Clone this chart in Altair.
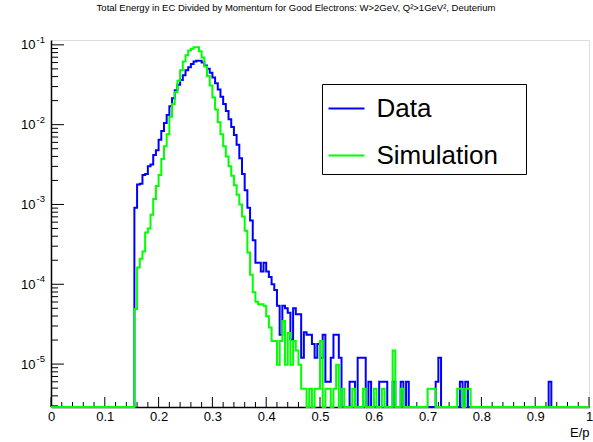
import altair as alt
import pandas as pd

# ---- histogram layout: E/p from 0 to 1 in 200 bins ----
BIN_WIDTH = 0.005
N_BINS = 200
FIRST_BIN = 31          # first filled bin starts at E/p = 0.155
Y_MIN = 2.9e-6
Y_MAX = 0.115

# Data (blue): bin contents from bin 31 (E/p=0.155) to bin 107
data_main = [
    9.12e-4, 1.78e-3, 1.82e-3, 2.34e-3, 2.40e-3, 3.02e-3, 3.16e-3, 4.17e-3, 4.79e-3,
    6.46e-3, 8.32e-3, 1.05e-2, 1.32e-2, 1.70e-2, 2.14e-2, 2.69e-2, 3.16e-2, 3.63e-2,
    4.17e-2, 4.79e-2, 5.25e-2, 5.75e-2, 6.17e-2, 6.31e-2, 6.31e-2, 6.03e-2, 5.50e-2,
    5.01e-2, 4.47e-2, 3.89e-2, 3.31e-2, 2.75e-2, 2.24e-2, 1.82e-2, 1.48e-2, 1.17e-2,
    9.33e-3, 7.41e-3, 5.62e-3, 3.80e-3, 2.40e-3, 1.51e-3, 9.12e-4, 6.31e-4, 3.55e-4,
    1.86e-4, 1.86e-4, 1.45e-4, 1.86e-4, 1.45e-4, 1.23e-4, 1.00e-4, 8.5e-5, 5.37e-5,
    2.34e-5, 5.37e-5, 5.01e-5, 4.4e-5, 2.04e-5, 5.0e-5, 4.2e-5, 4.2e-5, 1.2e-5,
    2.5e-5, 2.34e-5, 2.34e-5, 1.78e-5, 1.2e-5, 1.78e-5, 1.2e-5, 2.34e-5, 6e-6,
    6e-6, 1.2e-5, 2.34e-5, 2.34e-5, 1.2e-5,
]
data_tail_bins = [111, 112, 114, 115, 116, 118, 122, 123, 124, 127, 130, 132, 143, 144, 152, 154, 185]
data_tail_vals = [6e-6, 6e-6, 1.2e-5, 1.2e-5, 1.2e-5, 6e-6, 6e-6, 6e-6, 6e-6, 6e-6,
                  6e-6, 6e-6, 6e-6, 1.2e-5, 6e-6, 6e-6, 6e-6]

# Simulation (green): bin contents from bin 31 to bin 108
sim_main = [
    4.9e-5, 1.62e-4, 2.09e-4, 2.57e-4, 4.47e-4, 5.01e-4, 7.41e-4, 1.17e-3, 1.70e-3,
    2.34e-3, 3.72e-3, 5.37e-3, 7.59e-3, 1.26e-2, 1.82e-2, 2.57e-2, 3.55e-2, 4.79e-2,
    6.17e-2, 7.41e-2, 8.51e-2, 8.91e-2, 9.33e-2, 9.33e-2, 8.32e-2, 6.92e-2, 5.37e-2,
    4.07e-2, 3.09e-2, 2.19e-2, 1.55e-2, 1.07e-2, 7.59e-3, 5.37e-3, 3.98e-3, 3.02e-3,
    2.29e-3, 1.74e-3, 1.32e-3, 1.00e-3, 7.08e-4, 4.68e-4, 2.51e-4, 1.32e-4, 7.94e-5,
    6.03e-5, 5.62e-5, 5.62e-5, 5.37e-5, 3.98e-5, 2.88e-5, 1.95e-5, 1.95e-5, 9.8e-6,
    1.95e-5, 3.47e-5, 9.8e-6, 2.45e-5, 9.8e-6, 1.95e-5, 1.48e-5, 9.8e-6, 4.9e-6,
    4.9e-6, 0, 4.9e-6, 0, 4.9e-6, 4.9e-6, 1.95e-5, 0, 4.9e-6, 4.9e-6, 0,
    4.9e-6, 9.8e-6, 0, 4.9e-6,
]
sim_tail_bins = [112, 116, 120, 123, 127, 130, 140, 141, 142, 151, 152, 154, 155]
sim_tail_vals = [4.9e-6, 4.9e-6, 4.9e-6, 4.9e-6, 1.48e-5, 4.9e-6, 4.9e-6, 4.9e-6,
                 4.9e-6, 4.9e-6, 4.9e-6, 4.9e-6, 4.9e-6]

SERIES = ["Data", "Simulation"]
COLORS = ["#0000ff", "#00ff00"]

TITLE = "Total Energy in EC Divided by Momentum for Good Electrons: W>2GeV, Q\u00b2>1GeV\u00b2, Deuterium"

x_major = [0, 0.1, 0.2, 0.3, 0.4, 0.5, 0.6, 0.7, 0.8, 0.9, 1.0]
x_minor = [round(i * 0.02, 2) for i in range(1, 50) if i % 5 != 0]
y_major = [1e-5, 1e-4, 1e-3, 1e-2, 1e-1]
y_exponents = ["-5", "-4", "-3", "-2", "-1"]
y_minor = [m * 10.0 ** e for e in range(-6, -1) for m in range(2, 10)
           if Y_MIN <= m * 10.0 ** e <= Y_MAX]

W, H = 538, 367
FONT = "Liberation Sans"


def build(series, main, tb, tv):
    vals = [0.0] * N_BINS
    for i, v in enumerate(main):
        vals[FIRST_BIN + i] = v
    for b, v in zip(tb, tv):
        vals[b] = v
    rows = []
    for k in range(N_BINS):
        rows.append({"x": round(k * BIN_WIDTH, 4), "y": vals[k] if vals[k] > 0 else Y_MIN, "series": series})
    rows.append({"x": 1.0, "y": vals[-1] if vals[-1] > 0 else Y_MIN, "series": series})
    return rows


df = pd.DataFrame(build("Data", data_main, data_tail_bins, data_tail_vals)
                  + build("Simulation", sim_main, sim_tail_bins, sim_tail_vals))

x_scale = alt.Scale(domain=[0, 1], nice=False, zero=False)
y_scale = alt.Scale(type="log", domain=[Y_MIN, Y_MAX], nice=False)
color_scale = alt.Scale(domain=SERIES, range=COLORS)

x_axis = alt.Axis(values=x_major, labelExpr="format(datum.value, '.1~f')", ticks=False,
                  domain=True, domainColor="black", domainWidth=1.5, grid=False,
                  labelFont=FONT, labelFontSize=13, labelColor="black", labelPadding=3,
                  labelFlush=False, labelOverlap=False,
                  title="E/p", titleFont=FONT, titleFontSize=13, titleFontWeight="normal",
                  titleColor="black", titleAnchor="end", titlePadding=3)
y_axis = alt.Axis(values=y_major, labelExpr="'10'",
                  ticks=False, domain=True, domainColor="black", domainWidth=1.5, grid=False,
                  labelFont=FONT, labelFontSize=13, labelColor="black", labelPadding=16,
                  labelFlush=False, labelOverlap=False, title=None)

legend = alt.Legend(orient="none", legendX=271, legendY=44, title=None, direction="vertical",
                    symbolType="stroke", symbolSize=1296, symbolStrokeWidth=2,
                    labelFont=FONT, labelFontSize=26, labelColor="black", labelOffset=11,
                    labelLimit=400, labelExpr="datum.label + '\u2002\u2004\u200b'",
                    strokeColor="black", fillColor="white", padding=5.5, rowPadding=15)

ytick_major = alt.Chart(pd.DataFrame({"v": y_major})).mark_rule(color="black", strokeWidth=1).encode(
    y=alt.Y("v:Q", scale=y_scale, axis=y_axis), x=alt.value(0), x2=alt.value(13))
ytick_minor = alt.Chart(pd.DataFrame({"v": y_minor})).mark_rule(color="black", strokeWidth=1).encode(
    y=alt.Y("v:Q", scale=y_scale, axis=y_axis), x=alt.value(0), x2=alt.value(7))
xtick_major = alt.Chart(pd.DataFrame({"v": x_major})).mark_rule(color="black", strokeWidth=1).encode(
    x=alt.X("v:Q", scale=x_scale, axis=x_axis), y=alt.value(H), y2=alt.value(H - 10))
xtick_minor = alt.Chart(pd.DataFrame({"v": x_minor})).mark_rule(color="black", strokeWidth=1).encode(
    x=alt.X("v:Q", scale=x_scale, axis=x_axis), y=alt.value(H), y2=alt.value(H - 5))
# exponents of the "10^n" labels, drawn as superscripts next to the axis labels
y_exp = alt.Chart(pd.DataFrame({"v": y_major, "e": y_exponents})).mark_text(
    align="right", baseline="middle", font=FONT, fontSize=9.5, color="black", dy=-5).encode(
    y=alt.Y("v:Q", scale=y_scale, axis=y_axis), x=alt.value(-6), text="e:N")

base = alt.Chart(df).mark_line(interpolate="step-after", strokeWidth=2, clip=False)
enc = dict(
    x=alt.X("x:Q", scale=x_scale, axis=x_axis),
    y=alt.Y("y:Q", scale=y_scale, axis=y_axis),
    color=alt.Color("series:N", scale=color_scale, legend=legend),
)
data_layer = base.transform_filter(alt.datum.series == "Data").encode(**enc)
sim_layer = base.transform_filter(alt.datum.series == "Simulation").encode(**enc)

chart = alt.layer(ytick_major, ytick_minor, xtick_major, xtick_minor, y_exp, data_layer, sim_layer).properties(
    width=W, height=H,
    padding={"left": 51, "top": 40, "right": 4, "bottom": 35},
    autosize=alt.AutoSizeParams(type="none"),
    title=alt.TitleParams(text=TITLE, font=FONT, fontSize=9.5, fontWeight="normal", color="black",
                          anchor="middle", frame="group", dx=-24, offset=22),
).configure_view(stroke="black", strokeWidth=1).configure(background="white")

chart.save("out.html", embed_options={"renderer": "svg", "actions": False})
